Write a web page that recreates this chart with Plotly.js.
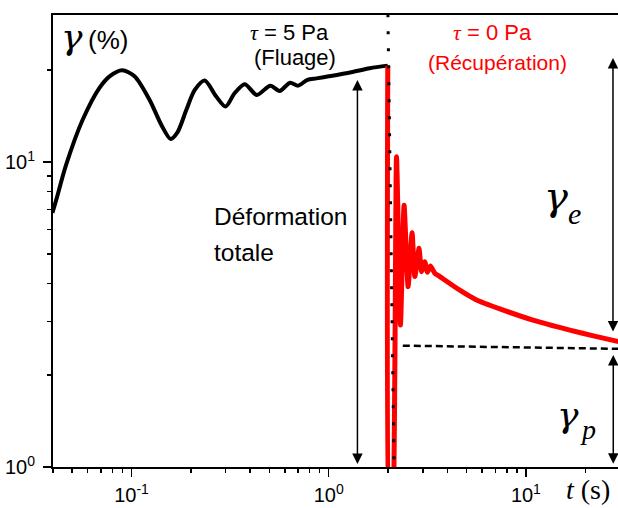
<!DOCTYPE html>
<html><head><meta charset="utf-8">
<script src="https://cdn.plot.ly/plotly-3.0.1.min.js"></script>
<style>html,body{margin:0;padding:0;background:#fff;}#chart{width:618px;height:508px;}</style>
</head><body><div id="chart"></div>
<script>
// Creep phase (Fluage), tau = 5 Pa : time (s) and strain (%)
const creepTime = [0.0397, 0.0415, 0.0466, 0.0564, 0.0688, 0.0774, 0.0897, 0.1036, 0.1234, 0.142, 0.158, 0.171, 0.1896, 0.209, 0.235, 0.269, 0.300, 0.333, 0.375, 0.432, 0.506, 0.564, 0.637, 0.70, 0.78, 0.867, 1.0, 1.3, 1.615, 1.993];
const creepStrain = [6.81, 7.50, 9.78, 13.7, 17.5, 19.1, 20.0, 19.1, 16.0, 13.2, 11.9, 12.5, 14.8, 17.2, 18.5, 16.4, 15.2, 16.8, 18.0, 16.6, 17.8, 17.1, 18.2, 17.8, 18.6, 18.8, 19.1, 19.7, 20.3, 20.7];

// Recovery phase (Récupération), tau = 0 Pa
const recovTime = [1.993, 2.05, 2.08, 2.207, 2.311, 2.411, 2.527, 2.647, 2.733, 2.872, 2.955, 3.07, 3.17, 3.28, 3.45, 3.66, 4.62, 5.62, 7.38, 10.86, 16.7, 22, 30];
const recovStrain = [20.7, 0.5, 0.5, 10.4, 2.92, 7.22, 3.90, 5.86, 4.21, 5.21, 4.37, 4.71, 4.35, 4.56, 4.32, 4.21, 3.80, 3.53, 3.30, 3.03, 2.81, 2.69, 2.57];

// Stress removal marker (dotted) and permanent strain level (dashed)
const stepTime = [1.997, 2.145];
const stepStrain = [30.5, 1.0];
const plateauTime = [2.376, 30];
const plateauStrain = [2.50, 2.44];

// Axis ticks
const xTickVals = [0.1, 1, 10];
const xTickText = ['10<sup>-1</sup>', '10<sup>0</sup>', '10<sup>1</sup>'];
const xMinorVals = [0.04,0.05,0.06,0.07,0.08,0.09,0.2,0.3,0.4,0.5,0.6,0.7,0.8,0.9,2,3,4,5,6,7,8,9,20,30];
const yTickVals = [1, 10];
const yTickText = ['10<sup>0</sup>', '10<sup>1</sup>'];
const yMinorVals = [2,3,4,5,6,7,8,9,20];

const SANS = 'Liberation Sans, Arial, sans-serif';
const SERIF = 'Liberation Serif, Times New Roman, serif';
const GREEK = 'DejaVu Serif, Liberation Serif, serif';

const traces = [
  {x: creepTime, y: creepStrain, mode:'lines', line:{color:'#000', width:4, shape:'spline', smoothing:0.8}, hoverinfo:'skip'},
  {x: recovTime, y: recovStrain, mode:'lines', line:{color:'#ff0000', width:5, shape:'spline', smoothing:0.5}, hoverinfo:'skip'},
  {x: stepTime, y: stepStrain, mode:'lines', line:{color:'#000', width:3, dash:'3px,14px'}, hoverinfo:'skip'},
  {x: plateauTime, y: plateauStrain, mode:'lines', line:{color:'#000', width:2.5, dash:'7px,4px'}, hoverinfo:'skip'}
];

const L = 53, R = 618, T = 15, B = 467;
function px(x){ return (x - L) / (R - L); }
function py(y){ return (B - y) / (B - T); }
function lbl(text, x, y, size, family, color, xanchor, yanchor){
  return {text:text, xref:'paper', yref:'paper', x:px(x), y:py(y), showarrow:false,
    xanchor:xanchor||'left', yanchor:yanchor||'middle', font:{size:size, family:family, color:color||'#000'}};
}
function arrow(xl, ytop, ybot){
  return {text:'', xref:'x', yref:'y', axref:'x', ayref:'y', x:xl, y:ytop, ax:xl, ay:ybot,
    showarrow:true, arrowside:'end+start', arrowhead:2, startarrowhead:2,
    arrowsize:1.4, startarrowsize:1.4, arrowwidth:1.5, arrowcolor:'#000', standoff:0, startstandoff:0};
}

const annotations = [
  lbl('<i>γ</i>', 59, 37, 36, GREEK),
  lbl('(%)', 86, 40, 26, SANS),
  lbl('<i><span style="font-family:Liberation Serif">τ</span></i> = 5 Pa', 289, 32, 22, SANS, '#000', 'center'),
  lbl('(Fluage)', 295, 58, 22, SANS, '#000', 'center'),
  lbl('<i><span style="font-family:Liberation Serif">τ</span></i> = 0 Pa', 492, 33, 22, SANS, '#ff0000', 'center'),
  lbl('(Récupération)', 497, 62, 21, SANS, '#ff0000', 'center'),
  lbl('Déformation', 212, 216, 24.5, SANS),
  lbl('totale', 212, 252, 24.5, SANS),
  lbl('<i>γ</i>', 542, 196, 40, GREEK),
  lbl('<i>e</i>', 566, 213, 30, SERIF),
  lbl('<i>γ</i>', 555, 414, 36, GREEK),
  lbl('<i>p</i>', 578, 429, 28, SERIF),
  lbl('<i>t</i> (s)', 564, 507, 28, SERIF, '#000', 'left', 'bottom'),
  arrow(0.1457, 1.269, 0.005),
  arrow(1.4416, 1.341, 0.439),
  arrow(1.443, 0.367, 0.006)
];

const axisCommon = {showgrid:false, zeroline:false, showline:true, linecolor:'#000', linewidth:2,
  ticks:'outside', ticklen:8, tickwidth:1.5, tickcolor:'#000', tickfont:{size:20, family:SANS, color:'#000'}};

const layout = {
  width:618, height:508,
  margin:{l:L, r:0, t:T, b:508-B, pad:0},
  paper_bgcolor:'#fff', plot_bgcolor:'#fff', showlegend:false,
  font:{family:SANS, color:'#000'},
  xaxis: Object.assign({}, axisCommon, {type:'log', range:[-1.398, 1.467], mirror:true,
    tickvals:xTickVals, ticktext:xTickText, ticklabelstandoff:1,
    minor:{tickvals:xMinorVals, ticks:'outside', ticklen:4, tickwidth:1.5, tickcolor:'#000', showgrid:false}}),
  yaxis: Object.assign({}, axisCommon, {type:'log', range:[0, 1.482], mirror:false,
    tickvals:yTickVals, ticktext:yTickText, ticklabelstandoff:4,
    minor:{tickvals:yMinorVals, ticks:'outside', ticklen:4, tickwidth:1.5, tickcolor:'#000', showgrid:false}}),
  annotations: annotations
};

Plotly.newPlot('chart', traces, layout, {displayModeBar:false, staticPlot:true});
</script>
</body></html>
